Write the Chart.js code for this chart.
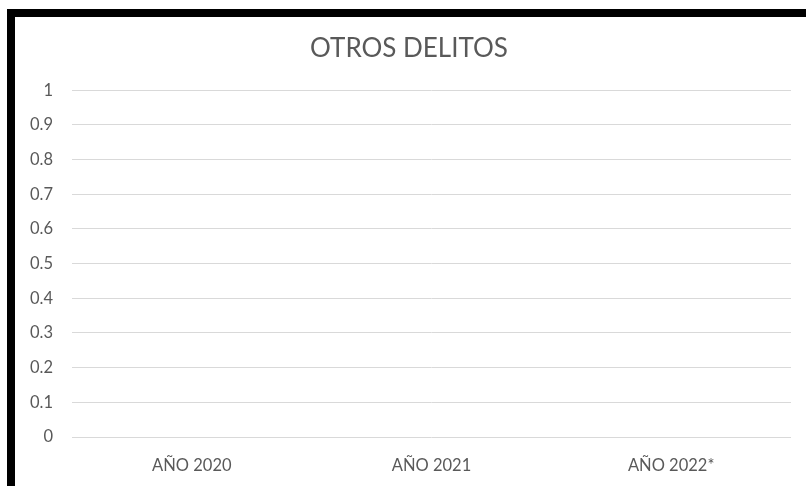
<!DOCTYPE html>
<html>
<head>
<meta charset="utf-8">
<script src="https://cdn.jsdelivr.net/npm/chart.js@4"></script>
<style>
  html, body { margin: 0; padding: 0; background: #fff; overflow: hidden; }
  .frame {
    position: absolute; left: 7px; top: 9px;
    width: 900px; height: 600px;
    border-left: 8px solid #000; border-top: 8px solid #000;
  }
  #wrap { position: absolute; left: 0; top: 0; width: 806px; height: 486px; }
</style>
</head>
<body>
<div class="frame"></div>
<div id="wrap"><canvas id="chart"></canvas></div>
<script>
const years = ['AÑO 2020', 'AÑO 2021', 'AÑO 2022*'];
// no cases recorded in any year
const otrosDelitos = [null, null, null];
const yTicks = [0, 0.1, 0.2, 0.3, 0.4, 0.5, 0.6, 0.7, 0.8, 0.9, 1];

const grey = '#595959';
const fontFamily = 'Lato, "Open Sans", sans-serif';

new Chart(document.getElementById('chart'), {
  type: 'bar',
  data: {
    labels: years,
    datasets: [{
      label: 'OTROS DELITOS',
      data: otrosDelitos,
      backgroundColor: '#4472c4'
    }]
  },
  options: {
    responsive: true,
    maintainAspectRatio: false,
    animation: false,
    layout: { padding: { top: 20, right: 15, left: 27, bottom: 0 } },
    plugins: {
      legend: { display: false },
      tooltip: { enabled: false },
      title: {
        display: true,
        text: 'OTROS DELITOS',
        color: grey,
        font: { family: fontFamily, size: 26, weight: 'normal' },
        padding: { top: 13, bottom: 26 }
      }
    },
    scales: {
      x: {
        grid: { display: false },
        border: { display: false },
        ticks: { color: grey, font: { family: fontFamily, size: 16.5 }, padding: 11 },
        afterFit: (s) => { s.height = 49; }
      },
      y: {
        min: 0,
        max: 1,
        afterBuildTicks: (s) => { s.ticks = yTicks.map(v => ({ value: v })); },
        grid: { color: '#d9d9d9', lineWidth: 1, drawTicks: false },
        border: { display: false },
        ticks: {
          color: grey,
          font: { family: fontFamily, size: 16.5 },
          padding: 19,
          callback: (v) => String(v)
        },
        afterFit: (s) => { s.width = 45; }
      }
    }
  }
});
</script>
</body>
</html>
